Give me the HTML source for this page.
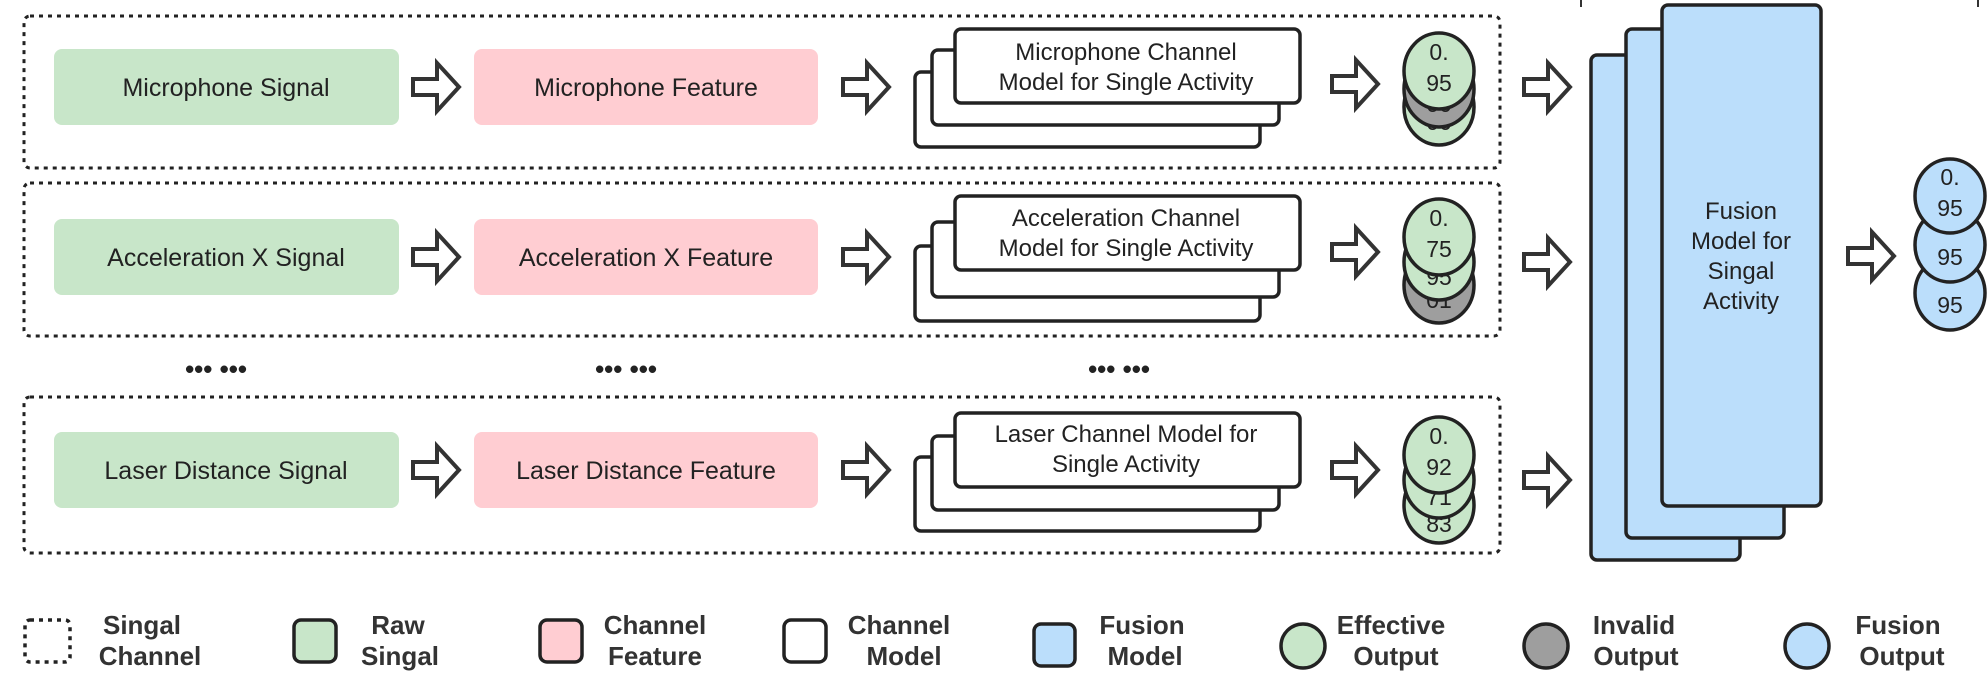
<!DOCTYPE html>
<html><head><meta charset="utf-8"><style>
html,body{margin:0;padding:0;background:#fff;}
svg{display:block;font-family:"Liberation Sans",sans-serif;}
</style></head><body>
<svg width="1988" height="683" viewBox="0 0 1988 683" xmlns="http://www.w3.org/2000/svg">
<defs>
<g id="arr"><polygon points="0,-8 24,-8 24,-24 46,0 24,24 24,8 0,8" fill="#fff" stroke="#333" stroke-width="4" stroke-linejoin="miter"/></g>
</defs>
<line x1="1581" y1="0" x2="1581" y2="7" stroke="#333" stroke-width="2"/>
<line x1="1978" y1="0" x2="1978" y2="7" stroke="#333" stroke-width="2"/>

<g fill="none" stroke="#222" stroke-width="3" stroke-dasharray="4 5">
<rect x="24" y="16" width="1476" height="152" rx="6"/>
<rect x="24" y="183" width="1476" height="153" rx="6"/>
<rect x="24" y="397" width="1476" height="156" rx="6"/>
</g>

<g font-size="25" fill="#222" text-anchor="middle">
<rect x="54" y="49" width="345" height="76" rx="8" fill="#c8e6c9"/>
<text x="226" y="96">Microphone Signal</text>
<rect x="474" y="49" width="344" height="76" rx="8" fill="#ffcdd2"/>
<text x="646" y="96">Microphone Feature</text>
<rect x="54" y="219" width="345" height="76" rx="8" fill="#c8e6c9"/>
<text x="226" y="266">Acceleration X Signal</text>
<rect x="474" y="219" width="344" height="76" rx="8" fill="#ffcdd2"/>
<text x="646" y="266">Acceleration X Feature</text>
<rect x="54" y="432" width="345" height="76" rx="8" fill="#c8e6c9"/>
<text x="226" y="479">Laser Distance Signal</text>
<rect x="474" y="432" width="344" height="76" rx="8" fill="#ffcdd2"/>
<text x="646" y="479">Laser Distance Feature</text>
</g>

<g font-size="26" font-weight="bold" fill="#222" text-anchor="middle">
<text x="216" y="378">••• •••</text>
<text x="626" y="378">••• •••</text>
<text x="1119" y="378">••• •••</text>
</g>

<use href="#arr" x="413" y="87"/><use href="#arr" x="843" y="87"/><use href="#arr" x="1332" y="84"/><use href="#arr" x="1524" y="87"/>
<use href="#arr" x="413" y="257"/><use href="#arr" x="843" y="257"/><use href="#arr" x="1332" y="252"/><use href="#arr" x="1524" y="262"/>
<use href="#arr" x="413" y="470"/><use href="#arr" x="843" y="470"/><use href="#arr" x="1332" y="470"/><use href="#arr" x="1524" y="480"/>
<use href="#arr" x="1848" y="256"/>

<g fill="#fff" stroke="#222" stroke-width="3.5">
<rect x="915" y="72" width="345" height="75" rx="6"/>
<rect x="932" y="50" width="347" height="75" rx="6"/>
<rect x="955" y="29" width="345" height="74" rx="6"/>
<rect x="915" y="246" width="345" height="75" rx="6"/>
<rect x="932" y="222" width="347" height="75" rx="6"/>
<rect x="955" y="196" width="345" height="74" rx="6"/>
<rect x="915" y="457" width="345" height="74" rx="6"/>
<rect x="932" y="436" width="347" height="74" rx="6"/>
<rect x="955" y="413" width="345" height="74" rx="6"/>
</g>
<g font-size="24" fill="#222" text-anchor="middle">
<text x="1126" y="60">Microphone Channel</text>
<text x="1126" y="90">Model for Single Activity</text>
<text x="1126" y="226">Acceleration Channel</text>
<text x="1126" y="256">Model for Single Activity</text>
<text x="1126" y="442">Laser Channel Model for</text>
<text x="1126" y="472">Single Activity</text>
</g>

<g stroke="#222" stroke-width="3.5" font-size="23" text-anchor="middle">
<ellipse cx="1439" cy="107" rx="35" ry="38" fill="#c8e6c9"/><text x="1439" y="130" fill="#222" stroke="none">00</text>
<ellipse cx="1439" cy="89" rx="35" ry="38" fill="#9e9e9e"/><text x="1439" y="112" fill="#222" stroke="none">00</text>
<ellipse cx="1439" cy="71" rx="35" ry="38" fill="#c8e6c9"/><text x="1439" y="60" fill="#222" stroke="none">0.</text><text x="1439" y="91" fill="#222" stroke="none">95</text>
<ellipse cx="1439" cy="285" rx="35" ry="38" fill="#9e9e9e"/><text x="1439" y="308" fill="#222" stroke="none">01</text>
<ellipse cx="1439" cy="262" rx="35" ry="38" fill="#c8e6c9"/><text x="1439" y="285" fill="#222" stroke="none">95</text>
<ellipse cx="1439" cy="237" rx="35" ry="38" fill="#c8e6c9"/><text x="1439" y="226" fill="#222" stroke="none">0.</text><text x="1439" y="257" fill="#222" stroke="none">75</text>
<ellipse cx="1439" cy="505" rx="35" ry="38" fill="#c8e6c9"/><text x="1439" y="532" fill="#222" stroke="none">83</text>
<ellipse cx="1439" cy="480" rx="35" ry="38" fill="#c8e6c9"/><text x="1439" y="505" fill="#222" stroke="none">71</text>
<ellipse cx="1439" cy="455" rx="35" ry="38" fill="#c8e6c9"/><text x="1439" y="444" fill="#222" stroke="none">0.</text><text x="1439" y="475" fill="#222" stroke="none">92</text>
</g>

<g fill="#bbdefb" stroke="#222" stroke-width="3.5">
<rect x="1591" y="55" width="149" height="505" rx="6"/>
<rect x="1626" y="29" width="158" height="509" rx="6"/>
<rect x="1662" y="5" width="159" height="501" rx="6"/>
</g>
<g font-size="24" fill="#222" text-anchor="middle">
<text x="1741" y="219">Fusion</text>
<text x="1741" y="249">Model for</text>
<text x="1741" y="279">Singal</text>
<text x="1741" y="309">Activity</text>
</g>

<g stroke="#222" stroke-width="3.5" font-size="23" text-anchor="middle">
<ellipse cx="1950" cy="293" rx="35" ry="37" fill="#bbdefb"/><text x="1950" y="282" fill="#222" stroke="none">0.</text><text x="1950" y="313" fill="#222" stroke="none">95</text>
<ellipse cx="1950" cy="245" rx="35" ry="37" fill="#bbdefb"/><text x="1950" y="234" fill="#222" stroke="none">0.</text><text x="1950" y="265" fill="#222" stroke="none">95</text>
<ellipse cx="1950" cy="196" rx="35" ry="37" fill="#bbdefb"/><text x="1950" y="185" fill="#222" stroke="none">0.</text><text x="1950" y="216" fill="#222" stroke="none">95</text>
</g>

<g stroke="#222" stroke-width="3.5">
<rect x="25" y="620" width="45" height="42" rx="5" fill="none" stroke-dasharray="4 5"/>
<rect x="294" y="620" width="42" height="42" rx="7" fill="#c8e6c9"/>
<rect x="540" y="620" width="42" height="42" rx="7" fill="#ffcdd2"/>
<rect x="784" y="620" width="42" height="42" rx="7" fill="#fff"/>
<rect x="1034" y="624" width="41" height="42" rx="7" fill="#bbdefb"/>
<ellipse cx="1303" cy="646" rx="22" ry="22" fill="#c8e6c9"/>
<ellipse cx="1546" cy="646" rx="22" ry="22" fill="#9e9e9e"/>
<ellipse cx="1807" cy="646" rx="22" ry="22" fill="#bbdefb"/>
</g>
<g font-size="26" font-weight="bold" fill="#333" text-anchor="middle">
<text x="142" y="634">Singal</text><text x="150" y="665">Channel</text>
<text x="398" y="634">Raw</text><text x="400" y="665">Singal</text>
<text x="655" y="634">Channel</text><text x="655" y="665">Feature</text>
<text x="899" y="634">Channel</text><text x="904" y="665">Model</text>
<text x="1142" y="634">Fusion</text><text x="1145" y="665">Model</text>
<text x="1391" y="634">Effective</text><text x="1396" y="665">Output</text>
<text x="1634" y="634">Invalid</text><text x="1636" y="665">Output</text>
<text x="1898" y="634">Fusion</text><text x="1902" y="665">Output</text>
</g>
</svg>
</body></html>
